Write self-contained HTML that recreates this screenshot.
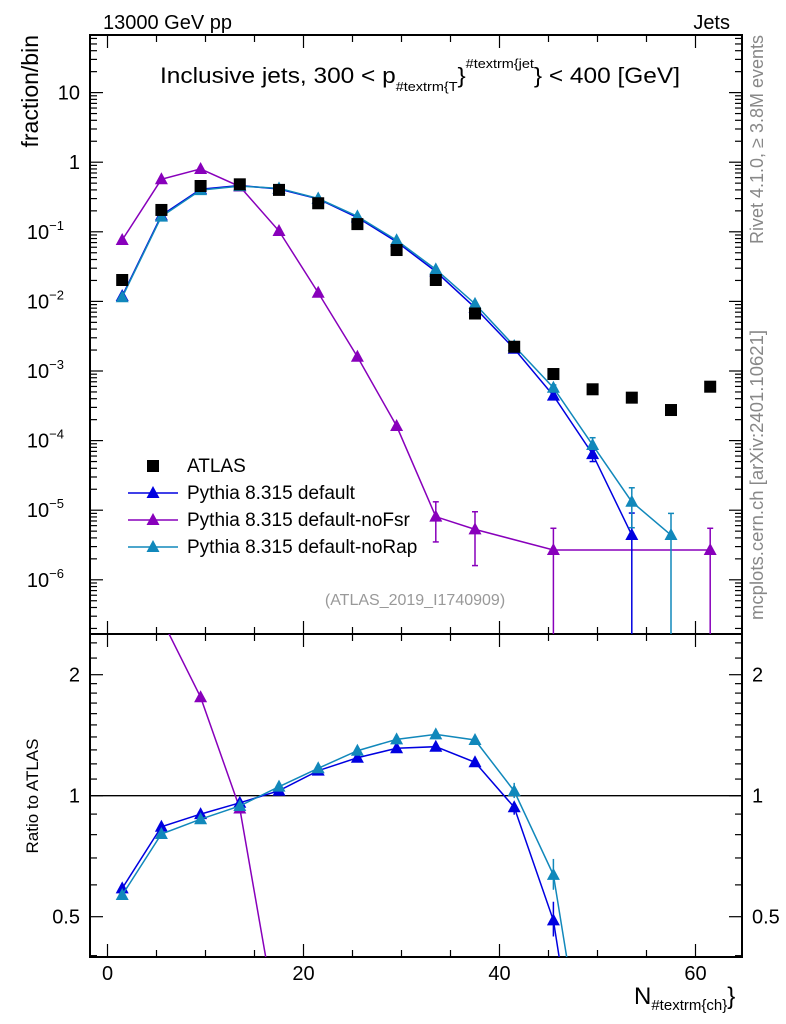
<!DOCTYPE html>
<html><head><meta charset="utf-8">
<style>
html,body{margin:0;padding:0;background:#fff;overflow:hidden;width:786px;height:1024px;}
svg{display:block;font-family:"Liberation Sans",sans-serif;overflow:hidden;}
</style></head>
<body>
<svg id="chart" width="786" height="1024" viewBox="0 0 786 1024">
<defs>
<clipPath id="cm"><rect x="90" y="35" width="652" height="599"/></clipPath>
<clipPath id="cr"><rect x="90" y="634" width="652" height="323"/></clipPath>
</defs>
<text x="103" y="29" font-size="20">13000 GeV pp</text>
<text x="730" y="29" font-size="20" text-anchor="end">Jets</text>
<text x="160" y="83" font-size="22" textLength="520" lengthAdjust="spacingAndGlyphs">Inclusive jets, 300 &lt; p<tspan font-size="13" dy="8">#textrm{T</tspan><tspan font-size="22" dy="-8">}</tspan><tspan font-size="13" dy="-15">#textrm{jet</tspan><tspan font-size="22" dy="15">} &lt; 400 [GeV]</tspan></text>
<text transform="translate(38,35) rotate(-90)" font-size="23" text-anchor="end">fraction/bin</text>
<text transform="translate(38,796) rotate(-90)" font-size="17" text-anchor="middle">Ratio to ATLAS</text>
<text transform="translate(763,35) rotate(-90)" font-size="18" fill="#888" text-anchor="end">Rivet 4.1.0, ≥ 3.8M events</text>
<text transform="translate(763,330) rotate(-90)" font-size="18.5" fill="#888" text-anchor="end">mcplots.cern.ch [arXiv:2401.10621]</text>
<text x="415" y="605" font-size="16" fill="#999" text-anchor="middle">(ATLAS_2019_I1740909)</text>
<text x="634" y="1004" font-size="24">N<tspan font-size="15" dy="6">#textrm{ch}</tspan><tspan font-size="24" dy="-6">}</tspan></text>
<g id="axes"></g>
<g id="mainMarks" clip-path="url(#cm)"></g>
<g id="ratioMarks" clip-path="url(#cr)"></g>
<g id="legend"></g>
</svg>
<script>
const bins = [1.5,5.5,9.5,13.5,17.5,21.5,25.5,29.5,33.5,37.5,41.5,45.5,49.5,53.5,57.5,61.5];
const atlas = [0.0203,0.206,0.455,0.481,0.40,0.257,0.129,0.0547,0.0203,0.0067,0.00223,0.000905,0.000546,0.000414,0.000275,0.000595];
const pyDefault = [0.01194,0.1724,0.4095,0.4618,0.4116,0.2966,0.1603,0.07177,0.02688,0.008114,0.002087,0.000443,0.000064,0.0000044,null,null];
const pyDefaultLo = [null,null,null,null,null,null,null,null,null,null,0.0020,0.000404,0.000050,0,null,null];
const pyDefaultHi = [null,null,null,null,null,null,null,null,null,null,0.00214,0.000493,0.000073,0.0000091,null,null];
const pyNoFsr = [0.0762,0.568,0.80,0.447,0.1026,0.0133,0.0016,0.000162,0.00000807,0.0000053,null,0.00000268,null,null,null,0.00000268];
const pyNoFsrLo = [null,null,null,null,null,null,null,null,0.0000035,0.0000016,null,0,null,null,null,0];
const pyNoFsrHi = [null,null,null,null,null,null,null,null,0.0000132,0.0000095,null,0.0000055,null,null,null,0.0000055];
const pyNoRap = [0.01149,0.1654,0.3977,0.4536,0.4212,0.3007,0.1669,0.07554,0.02885,0.009219,0.00229,0.000575,0.0000865,0.0000132,0.0000044,null];
const pyNoRapLo = [null,null,null,null,null,null,null,null,null,null,0.0022,0.000528,0.000075,0.0000056,0,null];
const pyNoRapHi = [null,null,null,null,null,null,null,null,null,null,0.0024,0.00063,0.00011,0.000021,0.000009,null];
const xTicks = [0,20,40,60];
const yMainTicks = [10,1,0.1,0.01,0.001,0.0001,0.00001,0.000001];
const yMainLabels = ["10","1","10|−1","10|−2","10|−3","10|−4","10|−5","10|−6"];
const yRatioTicks = [0.5,1,2];
const yRatioLabels = ["0.5","1","2"];
const legendLabels = ["ATLAS","Pythia 8.315 default","Pythia 8.315 default-noFsr","Pythia 8.315 default-noRap"];

const NS="http://www.w3.org/2000/svg";
const L=90,R=742,T=35,MB=634,RB=957;
function X(v){return 107.5+9.8*v;}
function Y(v){return 162.2-69.6*Math.log10(v);}
function RY(r){return 795.7-121*Math.log2(r);}
function mk(tag,attrs,parent){const e=document.createElementNS(NS,tag);for(const k in attrs)e.setAttribute(k,attrs[k]);parent.appendChild(e);return e;}
const axes=document.getElementById('axes');
const mm=document.getElementById('mainMarks');
const rm=document.getElementById('ratioMarks');
const lg=document.getElementById('legend');

let f1=mk('rect',{x:L,y:T,width:R-L,height:MB-T,fill:'none',stroke:'#000','stroke-width':2},axes);


let f2=mk('rect',{x:L,y:MB,width:R-L,height:RB-MB,fill:'none',stroke:'#000','stroke-width':2},axes);



for(let v=0;v<=64;v+=5){
  const major=(v%20===0);const len=major?13:7;const x=X(v);
  [[T,1],[MB,-1],[MB,1],[RB,-1]].forEach(([y,d])=>{
    let t=mk('line',{x1:x,x2:x,y1:y,y2:y+d*len,stroke:'#000','stroke-width':1.2},axes);
    
    
  });
}
xTicks.forEach(v=>{
  let t=mk('text',{x:X(v),y:980,'font-size':20,'text-anchor':'middle'},axes);
  t.textContent=String(v);
  
  
});
for(let e=-7;e<=1;e++){
  for(let m=1;m<=9;m++){
    const v=m*Math.pow(10,e);const y=Y(v);
    if(y<T||y>MB)continue;
    const len=(m===1)?13:7;
    [[L,1],[R,-1]].forEach(([x,d])=>{
      let t=mk('line',{x1:x,x2:x+d*len,y1:y,y2:y,stroke:'#000','stroke-width':1.2},axes);
      
      
    });
  }
}
yMainTicks.forEach((v,i)=>{
  const parts=yMainLabels[i].split('|');
  let t=mk('text',{x:parts.length>1?64:80,y:Y(v)+7,'font-size':20,'text-anchor':'end'},axes);
  
  
  if(parts.length>1){
    t.textContent=parts[0];
    let s=mk('tspan',{'font-size':13,dy:-9},t);s.textContent=parts[1];
  } else t.textContent=parts[0];
});
const rmin=[0.4,0.6,0.7,0.8,0.9,1.1,1.2,1.3,1.4,1.5,1.6,1.7,1.8,1.9,2.2,2.4];
rmin.concat(yRatioTicks).forEach(v=>{
  const y=RY(v);if(y<MB||y>RB)return;
  const len=yRatioTicks.includes(v)?13:7;
  [[L,1],[R,-1]].forEach(([x,d])=>{
    let t=mk('line',{x1:x,x2:x+d*len,y1:y,y2:y,stroke:'#000','stroke-width':1.2},axes);
    
    
  });
});
yRatioTicks.forEach((v,i)=>{
  let t=mk('text',{x:80,y:RY(v)+7,'font-size':20,'text-anchor':'end'},axes);
  t.textContent=yRatioLabels[i];
  
  
  let t2=mk('text',{x:752,y:RY(v)+7,'font-size':20},axes);
  t2.textContent=yRatioLabels[i];
  
  
});
let one=mk('line',{x1:L,x2:R,y1:RY(1),y2:RY(1),stroke:'#000','stroke-width':1.3},rm);



function tri(x,y,c,parent,name){
  let p=mk('polygon',{points:`${x-6.5},${y+5} ${x+6.5},${y+5} ${x},${y-7}`,fill:c},parent);
  
  
}
function series(vals,lo,hi,c,name){
  let pts=[];vals.forEach((v,i)=>{if(v!==null)pts.push(`${X(bins[i])},${Y(v)}`);});
  let pl=mk('polyline',{points:pts.join(' '),fill:'none',stroke:c,'stroke-width':1.5},mm);
  
  
  vals.forEach((v,i)=>{
    if(v===null)return;const x=X(bins[i]);
    if(hi[i]!==null){
      const y1=Y(hi[i]);const y2=lo[i]>0?Y(lo[i]):MB+5;
      let e=mk('line',{x1:x,x2:x,y1:y1,y2:y2,stroke:c,'stroke-width':1.5},mm);
      
      
      [y1,y2].forEach(yy=>{let cap=mk('line',{x1:x-3,x2:x+3,y1:yy,y2:yy,stroke:c,'stroke-width':1.5},mm);
        
        });
    }
    tri(x,Y(v),c,mm,name+'-point');
  });
  let rp=[];vals.forEach((v,i)=>{if(v!==null&&atlas[i])rp.push(`${X(bins[i])},${RY(v/atlas[i])}`);});
  let rl=mk('polyline',{points:rp.join(' '),fill:'none',stroke:c,'stroke-width':1.5},rm);
  
  
  vals.forEach((v,i)=>{
    if(v===null)return;const x=X(bins[i]);const r=v/atlas[i];
    if(hi[i]!==null&&lo[i]>0){
      const y1=RY(hi[i]/atlas[i]),y2=RY(lo[i]/atlas[i]);
      let e=mk('line',{x1:x,x2:x,y1:y1,y2:y2,stroke:c,'stroke-width':1.5},rm);
      
      
    }
    tri(x,RY(r),c,rm,name+'-ratio-point');
  });
}
series(pyNoFsr,pyNoFsrLo,pyNoFsrHi,'#8800bb','noFsr');
series(pyDefault,pyDefaultLo,pyDefaultHi,'#0000e0','default');
series(pyNoRap,pyNoRapLo,pyNoRapHi,'#1188bb','noRap');
atlas.forEach((v,i)=>{
  let s=mk('rect',{x:X(bins[i])-6,y:Y(v)-6,width:12,height:12,fill:'#000'},mm);
  
  
});

const lcol=['#000','#0000e0','#8800bb','#1188bb'];
legendLabels.forEach((lab,i)=>{
  const y=466+27*i;
  if(i===0){let s=mk('rect',{x:147,y:y-6,width:12,height:12,fill:'#000'},lg);
    
    }
  else{let ln=mk('line',{x1:128,x2:178,y1:y,y2:y,stroke:lcol[i],'stroke-width':1.5},lg);
    
    
    tri(153,y,lcol[i],lg,'legend-marker');}
  let t=mk('text',{x:187,y:y+6,'font-size':19},lg);
  t.textContent=lab;
  
  
});
</script>
</body></html>
